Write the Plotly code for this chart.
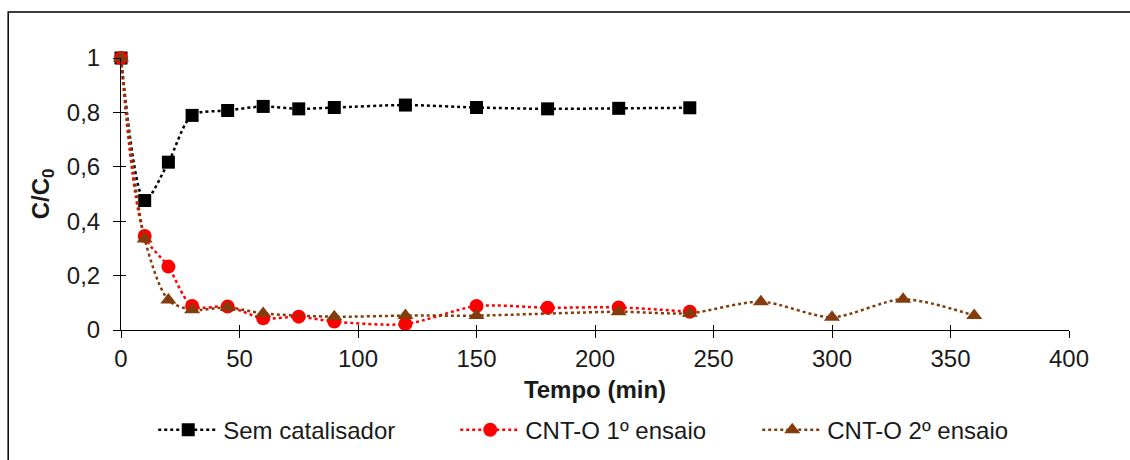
import plotly.graph_objects as go

# Data
t_sem = [0, 10, 20, 30, 45, 60, 75, 90, 120, 150, 180, 210, 240]
c_sem = [1.0, 0.476, 0.617, 0.789, 0.807, 0.822, 0.813, 0.818, 0.827, 0.818, 0.813, 0.815, 0.817]

t_cnt1 = [0, 10, 20, 30, 45, 60, 75, 90, 120, 150, 180, 210, 240]
c_cnt1 = [1.0, 0.346, 0.233, 0.088, 0.086, 0.043, 0.049, 0.031, 0.022, 0.088, 0.082, 0.083, 0.067]

t_cnt2 = [0, 10, 20, 30, 45, 60, 90, 120, 150, 210, 240, 270, 300, 330, 360]
c_cnt2 = [1.0, 0.335, 0.110, 0.074, 0.083, 0.061, 0.049, 0.053, 0.053, 0.067, 0.062, 0.104, 0.047, 0.113, 0.053]

x_ticks = [0, 50, 100, 150, 200, 250, 300, 350, 400]
y_ticks = [0, 0.2, 0.4, 0.6, 0.8, 1.0]
y_ticklabels = ["0", "0,2", "0,4", "0,6", "0,8", "1"]

FONT = "Liberation Sans, Arial, sans-serif"
BROWN = "#843C0C"
TXT = "#1a1a1a"

fig = go.Figure()
fig.add_trace(go.Scatter(
    x=t_sem, y=c_sem, name="Sem catalisador", mode="lines+markers",
    line=dict(color="black", width=2.5, dash="dot", shape="spline", smoothing=0.8),
    marker=dict(symbol="square", size=13, color="black"), cliponaxis=False))
fig.add_trace(go.Scatter(
    x=t_cnt1, y=c_cnt1, name="CNT-O 1º ensaio", mode="lines+markers",
    line=dict(color="#FF0000", width=2.5, dash="dot", shape="spline", smoothing=0.8),
    marker=dict(symbol="circle", size=14, color="#FF0000"), cliponaxis=False))
fig.add_trace(go.Scatter(
    x=t_cnt2, y=c_cnt2, name="CNT-O 2º ensaio", mode="lines+markers",
    line=dict(color=BROWN, width=2.5, dash="dot", shape="spline", smoothing=0.8),
    marker=dict(symbol="triangle-up", size=14, color=BROWN), cliponaxis=False))
# dummy trace for overlay axes (inside tick halves)
fig.add_trace(go.Scatter(x=[None], y=[None], xaxis="x2", yaxis="y2",
                         showlegend=False, hoverinfo="skip"))

fig.update_layout(
    width=1130, height=460,
    margin=dict(l=121, r=61, t=58, b=130, autoexpand=False),
    paper_bgcolor="white", plot_bgcolor="white",
    font=dict(family=FONT, size=24, color=TXT),
    xaxis=dict(range=[0, 400], tickvals=x_ticks, ticks="outside", ticklen=7,
               tickwidth=1, tickcolor="black", showline=True, linecolor="black",
               linewidth=1, showgrid=False, zeroline=False, automargin=False,
               ticklabelstandoff=0,
               tickfont=dict(size=24, color=TXT),
               title=dict(text="<b>Tempo (min)</b>", font=dict(size=24, color=TXT), standoff=10)),
    yaxis=dict(range=[0, 1], tickvals=y_ticks, ticktext=y_ticklabels, ticks="outside",
               ticklen=7, tickwidth=1, tickcolor="black", showline=True, linecolor="black",
               linewidth=1, showgrid=False, zeroline=False, automargin=False,
               ticklabelstandoff=8,
               tickfont=dict(size=24, color=TXT),
               title=dict(text="<b>C/C<sub>0</sub></b>", font=dict(size=24, color=TXT), standoff=10)),
    xaxis2=dict(range=[0, 400], tickvals=x_ticks, ticks="inside", ticklen=5, tickwidth=1,
                tickcolor="black", showticklabels=False, showgrid=False, zeroline=False,
                overlaying="x", anchor="y2", showline=False),
    yaxis2=dict(range=[0, 1], tickvals=y_ticks, ticks="inside", ticklen=5, tickwidth=1,
                tickcolor="black", showticklabels=False, showgrid=False, zeroline=False,
                overlaying="y", anchor="x2", showline=False),
    legend=dict(orientation="h", xref="paper", x=0.034, xanchor="left",
                yref="container", y=0.065, yanchor="middle",
                font=dict(size=24, color=TXT), itemwidth=60,
                entrywidth=227, entrywidthmode="pixels"),
    showlegend=True,
)

fig.add_shape(type="rect", xref="paper", yref="paper",
              x0=-0.119, x1=1.1, y0=-0.6, y1=1.169,
              line=dict(color="black", width=1.5), fillcolor="rgba(0,0,0,0)", layer="below")

fig.write_html("out.html")
